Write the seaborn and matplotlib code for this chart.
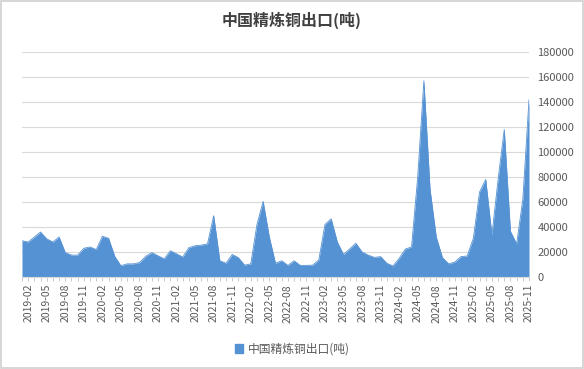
import matplotlib
matplotlib.use("Agg")
import matplotlib.pyplot as plt
import matplotlib.patches as mpatches
from matplotlib.ticker import MultipleLocator, FixedLocator
import seaborn as sns
import pandas as pd
import numpy as np

# ---- data ----
months = pd.date_range("2019-01-01", "2025-11-01", freq="MS").strftime("%Y-%m").tolist()
export_tons = [
    29000, 28000, 32000, 36000, 30500, 28000, 32000, 19500, 17500, 17500,
    23000, 24000, 22000, 32500, 31000, 16500, 9000, 10500, 10500, 11500,
    16500, 19500, 17000, 14500, 21000, 18500, 16000, 23500, 25000, 25500,
    26500, 49000, 13000, 11000, 18000, 15500, 9500, 10500, 42000, 60500,
    32000, 11000, 13000, 9300, 13000, 9300, 9300, 9500, 13600, 42000,
    46500, 28000, 18000, 22500, 27000, 20000, 17500, 15700, 16300, 11000,
    8800, 14900, 22400, 24000, 80000, 157000, 70000, 32000, 15500, 10500,
    12000, 16300, 16800, 31000, 68000, 78000, 33500, 78000, 118000, 36500,
    26500, 62000, 142000,
]
title = "中国精炼铜出口(吨)"
series_name = "中国精炼铜出口(吨)"
y_ticks = [0, 20000, 40000, 60000, 80000, 100000, 120000, 140000, 160000, 180000]

df = pd.DataFrame({"month": months, "value": export_tons})
df["pos"] = np.arange(len(df))

sns.set_theme(style="white")
plt.rcParams["font.family"] = ["Noto Sans CJK SC", "DejaVu Sans"]

color = "#5592d4"
fig = plt.figure(figsize=(5.84, 3.69), dpi=100)
ax = fig.add_axes([22 / 584, 1 - 277 / 369, (529 - 22) / 584, (277 - 52) / 369])

sns.lineplot(data=df, x="pos", y="value", ax=ax, color=color, linewidth=0.6)
ax.fill_between(df["pos"], df["value"], 0, color=color, linewidth=0)

ax.set_xlim(0, len(df) - 1)
ax.set_ylim(0, 180000)
ax.set_xlabel("")
ax.set_ylabel("")

# y axis on right
ax.yaxis.tick_right()
ax.set_yticks(y_ticks)
ax.set_yticklabels([str(v) for v in y_ticks], fontsize=8, color="#595959")
ax.tick_params(axis="y", length=0, pad=6)
ax.grid(axis="y", color="#d9d9d9", linewidth=0.8)
ax.set_axisbelow(True)

# x ticks: label every 3 months starting 2019-02
major = list(range(1, len(df), 3))
ax.xaxis.set_major_locator(FixedLocator(major))
ax.set_xticklabels([months[i] for i in major], rotation=90, fontsize=7.5, color="#595959")
ax.xaxis.set_minor_locator(MultipleLocator(1))
ax.tick_params(axis="x", which="both", direction="out", length=3, width=0.6,
               color="#bfbfbf", pad=2, bottom=True)

for s in ["top", "left", "right"]:
    ax.spines[s].set_visible(False)
ax.spines["bottom"].set_color("#d9d9d9")
ax.spines["bottom"].set_linewidth(0.8)

fig.text(0.5, 1 - 20 / 369, title, ha="center", va="center", fontsize=11.5,
         fontweight="bold", color="#404040")

handle = mpatches.Patch(color=color, label=series_name)
fig.legend(handles=[handle], loc="center", bbox_to_anchor=(0.5, 1 - 349 / 369),
           frameon=False, fontsize=8.5, handlelength=0.7, handleheight=0.7,
           handletextpad=0.4, labelcolor="#595959")

# outer chart border
fig.patches.append(mpatches.Rectangle((0.002, 0.003), 0.996, 0.994, transform=fig.transFigure,
                                      fill=False, edgecolor="#d0d0d0", linewidth=1.2))

fig.savefig("out.png", dpi=100)
